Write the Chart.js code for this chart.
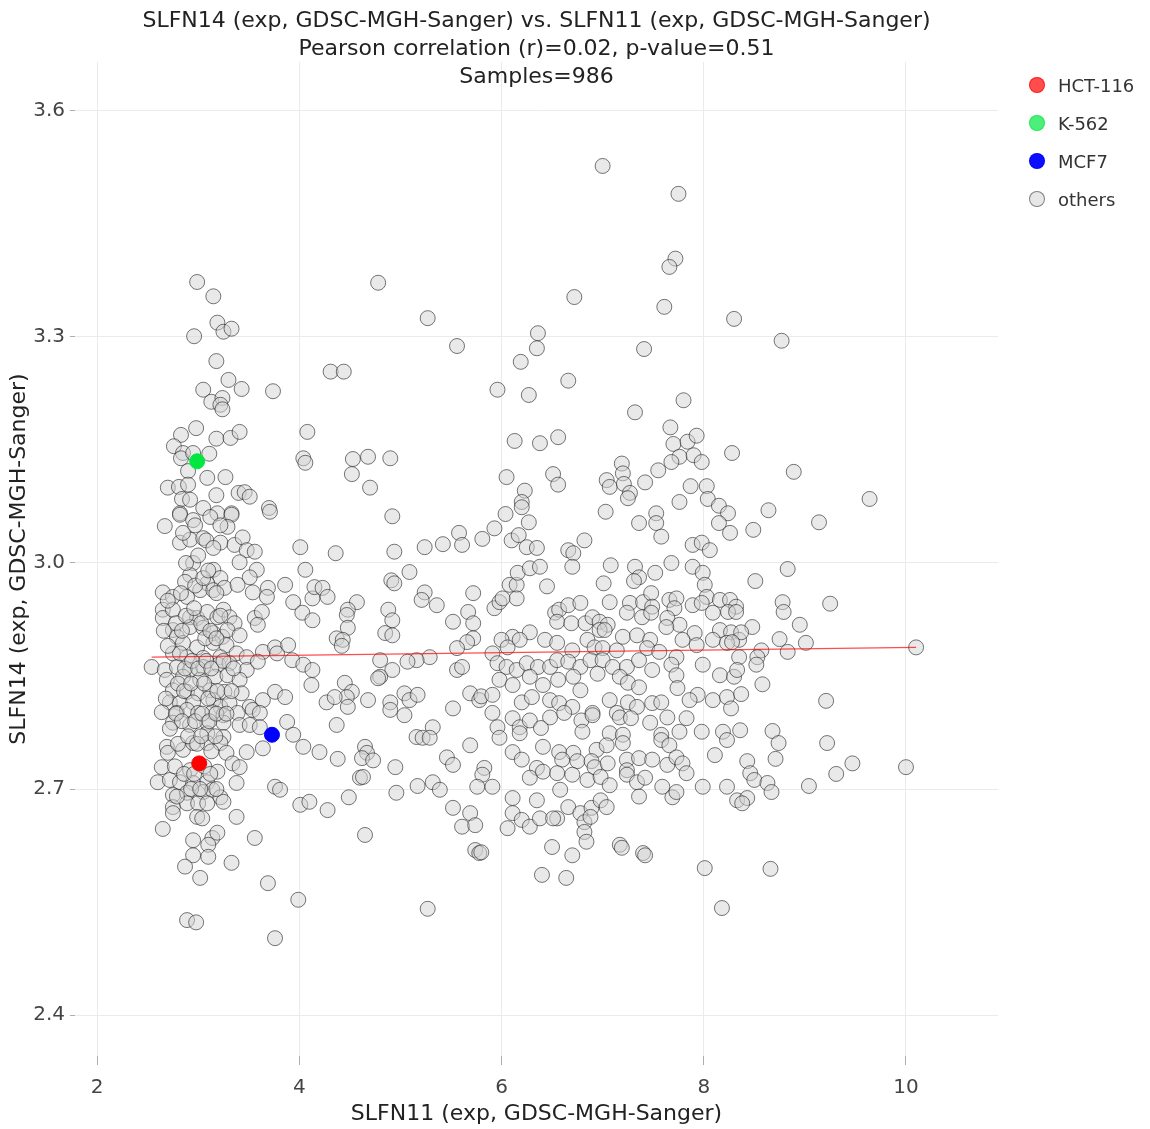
<!DOCTYPE html>
<html>
<head>
<meta charset="utf-8">
<title>SLFN14 vs SLFN11</title>
<script src="https://cdn.jsdelivr.net/npm/chart.js@4.4.1/dist/chart.umd.min.js"></script>
<style>
  body { margin: 0; background: #fff; }
  #wrap { position: relative; width: 1150px; height: 1129px; }
  #title { position: absolute; left: 75px; width: 923px; top: 6px; text-align: center;
           font-family: "DejaVu Sans", Verdana, sans-serif; font-size: 22px; line-height: 28px; color: #222; }
  #legend { position: absolute; left: 1029px; top: 66px; font-family: "DejaVu Sans", Verdana, sans-serif;
            font-size: 18px; color: #333; }
  .item { height: 38px; display: flex; align-items: center; }
  .dot { width: 16px; height: 16px; border-radius: 50%; margin-right: 13px; box-sizing: border-box; }
</style>
</head>
<body>
<div id="wrap">
  <canvas id="chart" width="1150" height="1129"></canvas>
  <div id="title"></div>
  <div id="legend"></div>
</div>
<script>
// titles
const titleLines = [
  'SLFN14 (exp, GDSC-MGH-Sanger) vs. SLFN11 (exp, GDSC-MGH-Sanger)',
  'Pearson correlation (r)=0.02, p-value=0.51',
  'Samples=986'
];
const xTitle = 'SLFN11 (exp, GDSC-MGH-Sanger)';
const yTitle = 'SLFN14 (exp, GDSC-MGH-Sanger)';

// tick values
const xTicks = [2, 4, 6, 8, 10];
const yTicks = [2.4, 2.7, 3.0, 3.3, 3.6];

// highlighted cell lines
const cellLines = ['HCT-116', 'K-562', 'MCF7'];
const cellX = [3.01, 2.99, 3.73];
const cellY = [2.734, 3.135, 2.772];
const cellColors = ['rgb(255,0,0)', 'rgb(0,232,64)', 'rgb(0,0,255)'];
const legendColors = ['rgba(255,0,0,0.7)', 'rgba(0,232,64,0.7)', 'rgba(0,0,255,0.95)'];

// regression line end points
const fitX = [2.54, 10.10];
const fitY = [2.875, 2.888];

// other samples, [SLFN11, SLFN14]
const othersLeftUpper = [
  [2.99,3.373],[3.15,3.354],[3.19,3.319],[3.25,3.307],[3.33,3.311],[2.96,3.301],[3.18,3.268],[3.30,3.243],
  [3.43,3.231],[3.74,3.228],[3.05,3.230],[3.13,3.214],[3.24,3.219],[3.22,3.210],[3.24,3.204],[4.08,3.174],
  [2.98,3.179],[2.83,3.170],[3.18,3.165],[3.32,3.166],[3.41,3.174],[2.76,3.155],[2.85,3.146],[2.83,3.139],
  [2.95,3.146],[3.11,3.145],[4.04,3.139],[4.06,3.133],[2.90,3.122],[3.09,3.113],[3.27,3.114],[2.70,3.100],
  [2.81,3.101],[2.90,3.104],[3.18,3.090],[3.40,3.093],[3.46,3.094],[3.51,3.088],[2.84,3.085],[2.92,3.084],
  [3.70,3.073],[2.82,3.066],[3.05,3.073],[3.19,3.066],[3.33,3.066]
];
const othersLeftMid = [
  [2.67,3.049],[2.82,3.064],[2.95,3.057],[3.12,3.061],[3.33,3.064],[3.29,3.048],[3.71,3.068],[4.01,3.021],
  [4.06,2.991],[2.82,3.027],[2.92,3.031],[3.05,3.033],[3.22,3.027],[3.36,3.024],[3.44,3.034],[3.48,3.017],
  [3.56,3.015],[3.41,3.001],[3.58,2.991],[3.51,2.981],[2.95,3.000],[2.92,2.984],[3.15,2.991],[3.22,2.980],
  [3.09,2.973],[2.65,2.961],[2.75,2.955],[2.87,2.975],[2.89,2.955],[3.02,2.964],[3.15,2.964],[3.26,2.967],
  [3.39,2.971],[3.54,2.961],[3.69,2.967],[3.86,2.971],[3.68,2.955],[3.94,2.948],[4.03,2.934],[4.13,2.924],
  [4.13,2.953],[2.65,2.938],[2.65,2.927],[2.75,2.938],[2.92,2.928],[2.99,2.927],[3.09,2.935],[3.19,2.928],
  [3.25,2.938],[3.31,2.928],[3.36,2.920],[3.56,2.927],[3.63,2.935],[3.59,2.918],[2.75,2.911],[2.79,2.902],
  [2.92,2.915],[3.05,2.914],[3.15,2.907],[3.24,2.902],[3.29,2.911],[3.41,2.904],[2.85,2.894],[2.99,2.888],
  [3.15,2.894],[3.28,2.891],[2.75,2.880],[2.89,2.875],[3.05,2.874],[3.22,2.875],[3.38,2.880],[3.48,2.875],
  [3.64,2.882],[3.76,2.888],[3.78,2.880],[3.89,2.891],[3.93,2.871],[4.04,2.865],[4.13,2.858],[2.54,2.862],
  [2.67,2.858],[2.79,2.862],[2.92,2.858],[3.05,2.862],[3.20,2.865],[3.31,2.867],[3.48,2.858],[3.59,2.869],
  [2.69,2.845],[2.85,2.849],[3.02,2.845],[3.17,2.849],[3.29,2.851],[3.41,2.845],[4.12,2.838],[2.75,2.831],
  [2.89,2.829],[3.00,2.827],[3.12,2.831],[3.26,2.829],[3.43,2.827],[2.72,2.815],[2.82,2.814],[2.95,2.815],
  [3.15,2.818],[3.22,2.809],[3.31,2.814],[3.51,2.809],[3.64,2.818],[3.76,2.829],[3.86,2.822],[2.64,2.802],
  [2.79,2.801],[2.89,2.805],[3.00,2.801],[3.14,2.802],[3.25,2.798],[3.39,2.801],[3.54,2.805],[3.61,2.801],
  [3.88,2.789],[2.75,2.788],[2.92,2.785],[3.09,2.788],[3.25,2.788],[3.41,2.785]
];
const othersLeftLow = [
  [3.09,2.774],[3.25,2.769],[3.51,2.785],[3.61,2.782],[3.94,2.772],[4.04,2.756],[4.20,2.749],[2.69,2.756],
  [2.70,2.748],[2.85,2.752],[2.95,2.761],[3.09,2.761],[3.22,2.761],[3.28,2.748],[3.34,2.734],[3.41,2.729],
  [3.48,2.749],[3.64,2.754],[2.64,2.729],[2.92,2.725],[3.19,2.723],[3.38,2.708],[2.60,2.709],[2.72,2.712],
  [2.82,2.709],[2.95,2.708],[3.09,2.709],[3.76,2.703],[3.81,2.699],[2.75,2.692],[2.89,2.695],[3.05,2.696],
  [3.14,2.699],[3.22,2.689],[3.25,2.683],[4.01,2.679],[4.10,2.683],[2.75,2.676],[2.89,2.681],[3.00,2.681],
  [3.09,2.681],[2.75,2.668],[2.99,2.663],[3.04,2.661],[3.38,2.663],[2.65,2.647],[2.95,2.632],[3.14,2.635],
  [3.19,2.642],[3.10,2.626],[3.56,2.635],[2.95,2.612],[2.87,2.597],[3.10,2.610],[3.33,2.602],[3.02,2.582],
  [3.69,2.575],[3.99,2.553],[2.89,2.526],[2.98,2.523],[3.76,2.502]
];
const othersLeftCore = [
  [2.78,2.92],[2.84,2.91],[2.88,2.93],[2.96,2.94],[3.03,2.92],[3.07,2.90],[3.12,2.91],[3.18,2.90],
  [3.22,2.93],[2.82,2.88],[2.87,2.86],[2.94,2.87],[3.00,2.86],[3.08,2.87],[3.13,2.86],[3.25,2.87],
  [3.35,2.86],[2.80,2.84],[2.86,2.83],[2.93,2.84],[3.06,2.84],[3.10,2.82],[3.19,2.83],[3.33,2.83],
  [2.78,2.80],[2.84,2.79],[2.97,2.79],[3.04,2.80],[3.11,2.79],[3.18,2.80],[3.28,2.80],[2.80,2.76],
  [2.90,2.77],[2.99,2.76],[3.03,2.77],[3.13,2.75],[3.17,2.77],[2.77,2.73],[2.86,2.72],[2.96,2.72],
  [3.06,2.73],[3.12,2.72],[2.79,2.69],[2.93,2.70],[3.02,2.70],[3.18,2.70],[2.83,2.96],[2.97,2.97],
  [3.05,2.98],[3.10,2.99],[3.18,2.96],[2.88,3.00],[3.00,3.01],[3.08,3.03],[3.15,3.02],[2.85,3.04],
  [2.97,3.05],[3.22,3.05],[2.70,2.89],[2.68,2.82],[2.72,2.78],[2.66,2.91],[2.70,2.95]
];
const othersMidUpper = [
  [4.78,3.372],[5.27,3.325],[5.56,3.288],[4.31,3.254],[4.44,3.254],[6.36,3.305],[6.35,3.285],[6.19,3.267],
  [5.96,3.230],[6.27,3.223],[6.13,3.162],[6.38,3.159],[6.56,3.167],[4.53,3.138],[4.68,3.141],[4.90,3.139],
  [4.52,3.118],[4.70,3.100],[6.05,3.114],[6.23,3.096],[6.20,3.081],[6.20,3.074],[6.51,3.118],[6.56,3.104],
  [4.92,3.062],[6.04,3.065],[5.93,3.046],[6.27,3.054],[5.58,3.040],[5.61,3.024],[5.42,3.025],[5.24,3.021],
  [5.81,3.032],[6.10,3.030],[6.17,3.037],[6.25,3.021],[6.35,3.020],[4.36,3.013],[4.94,3.015]
];
const othersMidLow = [
  [5.09,2.988],[4.91,2.977],[4.94,2.973],[4.15,2.968],[4.23,2.967],[4.28,2.955],[5.24,2.961],[5.21,2.951],
  [5.36,2.944],[5.72,2.960],[4.57,2.948],[4.48,2.938],[4.47,2.931],[4.88,2.938],[4.92,2.924],[4.48,2.914],
  [4.37,2.900],[4.43,2.898],[4.42,2.890],[4.85,2.907],[4.92,2.904],[5.52,2.922],[5.67,2.935],[5.72,2.920],
  [5.72,2.900],[5.66,2.895],[5.93,2.940],[5.98,2.948],[6.08,2.971],[6.15,2.971],[6.16,2.987],[6.28,2.993],
  [6.38,2.995],[6.45,2.969],[6.15,2.953],[6.01,2.953],[5.56,2.887],[5.29,2.875],[5.16,2.871],[5.07,2.869],
  [4.80,2.871],[4.92,2.858],[4.80,2.849],[4.78,2.847],[5.56,2.858],[5.61,2.862],[4.45,2.841],[4.52,2.829],
  [4.47,2.822],[4.48,2.809],[4.27,2.815],[4.35,2.822],[4.68,2.818],[4.90,2.815],[4.90,2.805],[5.04,2.827],
  [5.09,2.818],[5.17,2.825],[5.04,2.798],[5.69,2.827],[5.78,2.818],[5.52,2.807],[4.37,2.785],[5.32,2.782],
  [5.16,2.769],[5.22,2.768],[5.29,2.768],[5.69,2.758],[4.38,2.740],[4.65,2.756],[4.67,2.748],[4.62,2.741],
  [4.73,2.738],[4.95,2.729],[5.46,2.742],[5.52,2.732],[5.83,2.728],[5.81,2.719],[5.76,2.703],[5.91,2.703],
  [4.60,2.715],[4.63,2.716],[4.49,2.689],[4.96,2.695],[5.17,2.704],[5.32,2.709],[5.39,2.699],[4.28,2.672],
  [5.52,2.675],[5.69,2.668],[5.61,2.650],[5.74,2.652],[4.65,2.639],[5.74,2.619],[5.78,2.615],[5.27,2.541],
  [6.58,2.699]
];
const othersRightUpper = [
  [7.00,3.527],[7.75,3.490],[7.72,3.404],[7.66,3.393],[6.72,3.353],[7.61,3.340],[8.30,3.324],[7.41,3.284],
  [6.66,3.242],[7.80,3.216],[7.32,3.200],[7.67,3.180],[7.70,3.158],[7.84,3.161],[7.93,3.169],[7.76,3.141],
  [7.90,3.143],[7.98,3.134],[8.28,3.146],[7.68,3.134],[7.55,3.123],[7.19,3.132],[7.20,3.119],[7.04,3.110],
  [7.07,3.101],[7.21,3.105],[7.27,3.093],[7.25,3.086],[7.42,3.107],[7.87,3.102],[8.03,3.102],[8.04,3.085],
  [8.15,3.076],[8.24,3.066],[8.15,3.053],[8.26,3.040],[7.76,3.081],[7.03,3.068],[7.53,3.066],[7.53,3.053],
  [7.58,3.035],[7.36,3.053],[6.66,3.017],[6.71,3.013],[6.82,3.030],[7.89,3.024],[7.98,3.027],[8.06,3.017]
];
const othersRightMid = [
  [6.70,2.995],[7.01,2.973],[7.08,2.997],[7.32,2.995],[7.52,2.987],[7.36,2.981],[7.31,2.976],[7.68,3.000],
  [7.89,2.995],[7.99,2.987],[8.01,2.971],[8.03,2.955],[7.07,2.948],[7.27,2.947],[7.40,2.948],[7.48,2.960],
  [7.49,2.942],[7.66,2.951],[7.73,2.953],[7.71,2.940],[7.89,2.944],[7.98,2.947],[8.16,2.951],[8.26,2.951],
  [8.32,2.942],[8.09,2.934],[8.24,2.935],[6.53,2.934],[6.57,2.938],[6.66,2.944],[6.78,2.947],[6.55,2.922],
  [6.69,2.920],[6.83,2.920],[6.90,2.928],[6.97,2.922],[7.05,2.918],[6.97,2.911],[7.02,2.911],[7.24,2.934],
  [7.39,2.928],[7.48,2.934],[7.64,2.927],[7.76,2.918],[7.63,2.915],[7.91,2.907],[8.16,2.911],[8.27,2.908],
  [8.35,2.898],[6.28,2.908],[6.11,2.902],[6.00,2.898],[6.06,2.888],[6.18,2.898],[6.43,2.898],[6.55,2.894],
  [6.70,2.884],[6.85,2.898],[6.92,2.888],[7.00,2.887],[7.14,2.884],[7.20,2.902],[7.34,2.904],[7.47,2.898],
  [7.44,2.887],[7.56,2.882],[7.79,2.898],[7.93,2.891],[8.09,2.898],[8.23,2.894],[7.73,2.875],[7.99,2.865],
  [8.16,2.851],[8.30,2.849],[5.91,2.880],[5.96,2.867],[6.05,2.862],[6.15,2.858],[6.25,2.867],[6.36,2.862],
  [6.48,2.862],[6.55,2.871],[6.66,2.869],[6.78,2.862],[6.88,2.871],[7.00,2.871],[6.95,2.853],[7.10,2.862],
  [7.24,2.862],[7.36,2.871],[7.49,2.858],[7.68,2.865],[5.98,2.845],[6.11,2.838],[6.28,2.849],[6.41,2.838],
  [6.56,2.845],[6.71,2.849],[6.78,2.831],[7.17,2.849],[7.25,2.841],[7.36,2.835],[7.73,2.851],[7.74,2.834],
  [7.94,2.825],[8.09,2.818],[8.23,2.822],[5.80,2.823],[5.91,2.825],[6.20,2.815],[6.30,2.822],[6.48,2.818],
  [6.57,2.814],[6.70,2.809],[6.90,2.801],[7.07,2.818],[7.14,2.801],[7.25,2.815],[7.34,2.809],[7.49,2.814],
  [7.58,2.815],[7.86,2.818],[5.91,2.801],[6.11,2.794],[6.18,2.782],[6.28,2.791],[6.48,2.795],[6.62,2.801],
  [6.79,2.791],[6.90,2.798],[7.17,2.795],[7.28,2.794],[7.47,2.788],[7.64,2.795],[7.83,2.794]
];
const othersRightLow = [
  [5.96,2.782],[5.98,2.768],[6.18,2.774],[6.39,2.781],[6.80,2.776],[7.07,2.774],[7.20,2.772],[7.58,2.772],
  [7.76,2.776],[7.98,2.776],[8.19,2.776],[8.23,2.765],[6.41,2.756],[6.57,2.749],[6.71,2.748],[6.94,2.752],
  [7.04,2.758],[7.20,2.761],[7.58,2.765],[7.66,2.758],[8.11,2.745],[6.11,2.749],[6.20,2.739],[6.35,2.728],
  [6.28,2.715],[6.60,2.739],[6.75,2.737],[6.89,2.737],[6.92,2.729],[7.05,2.734],[7.24,2.739],[7.24,2.725],
  [7.36,2.741],[7.49,2.739],[7.64,2.732],[7.73,2.742],[7.79,2.734],[7.83,2.721],[7.99,2.703],[8.23,2.703],
  [8.33,2.685],[6.41,2.723],[6.55,2.721],[6.70,2.719],[6.85,2.712],[6.98,2.716],[7.07,2.705],[7.24,2.719],
  [7.34,2.709],[7.42,2.715],[7.59,2.703],[7.69,2.689],[7.73,2.696],[7.36,2.690],[6.11,2.688],[6.35,2.685],
  [6.55,2.661],[6.66,2.676],[6.78,2.668],[6.89,2.675],[6.98,2.685],[7.04,2.676],[6.82,2.656],[6.88,2.663],
  [6.82,2.643],[6.84,2.630],[6.11,2.668],[6.20,2.659],[6.06,2.648],[6.28,2.650],[6.38,2.661],[6.51,2.661],
  [5.80,2.616],[6.50,2.623],[6.70,2.612],[7.17,2.626],[7.19,2.622],[7.40,2.615],[7.42,2.612],[6.40,2.586],
  [6.64,2.582],[8.01,2.595]
];
const othersFarRight = [
  [8.77,3.295],[8.89,3.121],[9.64,3.085],[8.64,3.070],[9.14,3.054],[8.49,3.044],[8.83,2.992],[8.51,2.976],
  [8.78,2.948],[8.79,2.935],[9.25,2.946],[8.32,2.935],[8.48,2.915],[8.37,2.908],[8.28,2.895],[8.95,2.918],
  [8.75,2.899],[9.01,2.894],[8.83,2.882],[8.57,2.884],[8.53,2.875],[8.52,2.865],[8.35,2.875],[8.33,2.858],
  [10.10,2.888],[8.58,2.839],[8.37,2.826],[8.27,2.807],[9.21,2.817],[8.36,2.778],[8.68,2.777],[8.74,2.761],
  [8.71,2.740],[9.22,2.761],[8.43,2.737],[8.46,2.721],[8.50,2.712],[8.63,2.708],[8.67,2.696],[9.47,2.734],
  [9.31,2.720],[10.00,2.729],[9.04,2.704],[8.43,2.688],[8.38,2.681],[8.66,2.594],[8.18,2.542]
];

const others = [].concat(othersLeftUpper, othersLeftMid, othersLeftLow, othersLeftCore,
  othersMidUpper, othersMidLow, othersRightUpper, othersRightMid, othersRightLow, othersFarRight)
  .map(p => ({ x: p[0], y: p[1] }));

const family = '"DejaVu Sans", Verdana, sans-serif';

// title and legend as html text
document.getElementById('title').innerHTML = titleLines.join('<br>');
const legendNames = cellLines.concat(['others']);
const legendFill = legendColors.concat(['rgba(211,211,211,0.55)']);
const legendLine = legendColors.concat(['rgba(60,60,60,0.6)']);
document.getElementById('legend').innerHTML = legendNames.map((n, i) =>
  '<div class="item"><span class="dot" style="background:' + legendFill[i] +
  ';border:1px solid ' + legendLine[i] + '"></span>' + n + '</div>').join('');

const datasets = cellLines.map((name, i) => ({
  label: name,
  data: [{ x: cellX[i], y: cellY[i] }],
  backgroundColor: cellColors[i],
  borderColor: cellColors[i],
  borderWidth: 1,
  pointRadius: 7.5,
  order: 0
}));
datasets.push({
  label: 'fit',
  type: 'line',
  data: fitX.map((x, i) => ({ x: x, y: fitY[i] })),
  borderColor: 'rgba(255,0,0,0.7)',
  borderWidth: 1.2,
  pointRadius: 0,
  order: 1
});
datasets.push({
  label: 'others',
  data: others,
  backgroundColor: 'rgba(211,211,211,0.5)',
  borderColor: 'rgba(30,30,30,0.6)',
  borderWidth: 1,
  pointRadius: 7.5,
  order: 2
});

new Chart(document.getElementById('chart'), {
  type: 'scatter',
  data: { datasets: datasets },
  options: {
    responsive: false,
    animation: false,
    devicePixelRatio: 1,
    layout: { padding: { top: 62, right: 152, left: 0, bottom: 0 } },
    plugins: { legend: { display: false }, tooltip: { enabled: false }, title: { display: false } },
    scales: {
      x: {
        type: 'linear',
        min: 1.782,
        max: 10.91,
        afterBuildTicks: s => { s.ticks = xTicks.map(v => ({ value: v })); },
        afterFit: s => { s.height = 73; },
        ticks: { font: { family: family, size: 20 }, color: '#444', padding: 11 },
        grid: { color: 'rgb(235,235,235)', tickColor: 'rgba(120,120,120,0.6)', tickLength: 9 },
        border: { display: false },
        title: { display: true, text: xTitle, font: { family: family, size: 22 }, color: '#222',
                 padding: { top: 0, bottom: 2 } }
      },
      y: {
        type: 'linear',
        min: 2.3456,
        max: 3.665,
        afterBuildTicks: s => { s.ticks = yTicks.map(v => ({ value: v })); },
        afterFit: s => { s.width = 75; },
        ticks: { font: { family: family, size: 20 }, color: '#444', padding: 5,
                 callback: v => Number(v).toFixed(1) },
        grid: { color: 'rgb(235,235,235)', tickColor: 'rgba(120,120,120,0.6)', tickLength: 5 },
        border: { display: false },
        title: { display: true, text: yTitle, font: { family: family, size: 22 }, color: '#222',
                 padding: { top: 6, bottom: 0 } }
      }
    }
  }
});
</script>
</body>
</html>
